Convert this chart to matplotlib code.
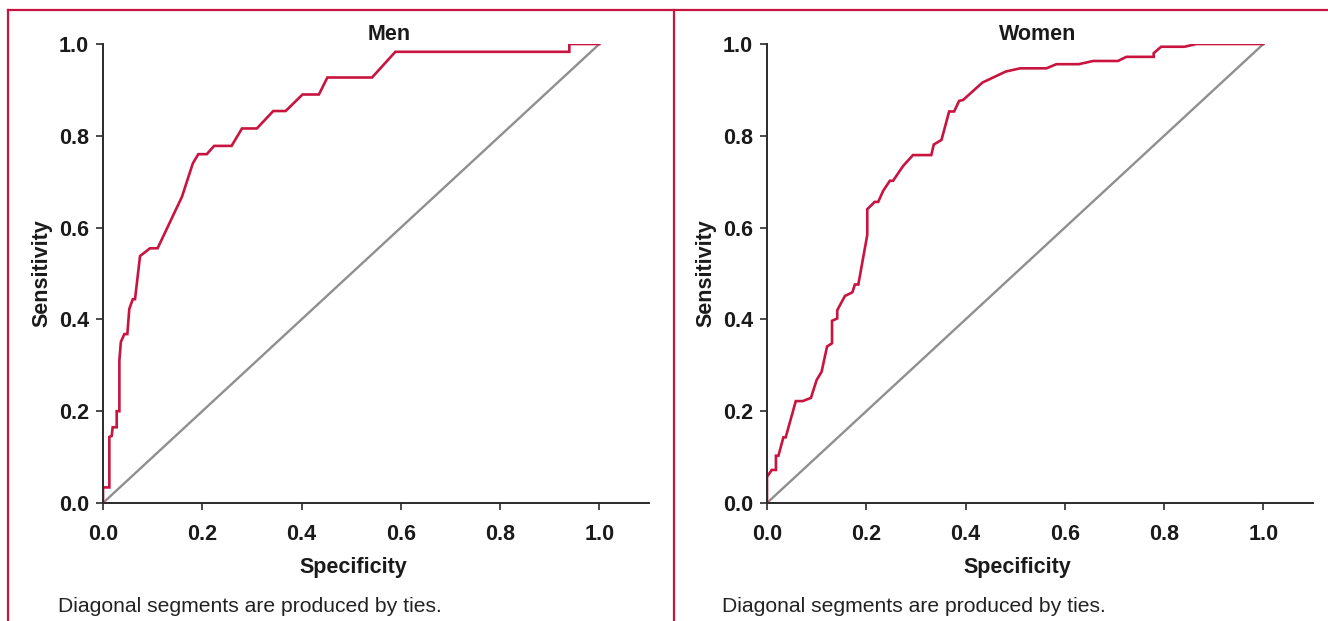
import matplotlib
matplotlib.use("Agg")
import matplotlib.pyplot as plt
from matplotlib.lines import Line2D

plt.rcParams['font.family'] = ['Liberation Sans', 'DejaVu Sans']

# ROC curve for men (x = 1 - specificity as plotted, y = sensitivity)
men_x = [0.0, 0.0, 0.0128, 0.0128, 0.0175, 0.0195, 0.0276, 0.0276, 0.033, 0.033,
         0.036, 0.043, 0.049, 0.053, 0.060, 0.0645, 0.0746, 0.0948, 0.110, 0.159,
         0.181, 0.192, 0.209, 0.224, 0.259, 0.280, 0.310, 0.343, 0.368, 0.402,
         0.435, 0.452, 0.542, 0.589, 0.9395, 0.9395, 1.0]
men_y = [0.0, 0.034, 0.034, 0.144, 0.146, 0.165, 0.165, 0.200, 0.200, 0.311,
         0.351, 0.368, 0.368, 0.423, 0.444, 0.444, 0.538, 0.555, 0.555, 0.667,
         0.740, 0.760, 0.760, 0.778, 0.778, 0.816, 0.816, 0.854, 0.854, 0.890,
         0.890, 0.927, 0.927, 0.983, 0.983, 1.0, 1.0]

# ROC curve for women
women_x = [0.0, 0.0, 0.0095, 0.018, 0.018, 0.023, 0.033, 0.0376, 0.058, 0.072,
           0.0885, 0.100, 0.110, 0.121, 0.131, 0.131, 0.1415, 0.1415, 0.157, 0.172,
           0.177, 0.184, 0.202, 0.202, 0.217, 0.224, 0.234, 0.2475, 0.254, 0.274,
           0.294, 0.331, 0.336, 0.3515, 0.367, 0.377, 0.387, 0.395, 0.434, 0.481,
           0.510, 0.563, 0.583, 0.628, 0.657, 0.707, 0.724, 0.779, 0.779, 0.794,
           0.841, 0.865, 1.0]
women_y = [0.0, 0.057, 0.072, 0.072, 0.103, 0.103, 0.143, 0.143, 0.222, 0.222,
           0.229, 0.268, 0.286, 0.341, 0.348, 0.397, 0.402, 0.420, 0.451, 0.459,
           0.476, 0.476, 0.584, 0.640, 0.656, 0.656, 0.680, 0.702, 0.702, 0.734,
           0.758, 0.758, 0.781, 0.791, 0.853, 0.853, 0.876, 0.878, 0.916, 0.940,
           0.947, 0.947, 0.956, 0.956, 0.963, 0.963, 0.972, 0.972, 0.980, 0.994,
           0.994, 1.0, 1.0]

ticks = [0.0, 0.2, 0.4, 0.6, 0.8, 1.0]
tick_labels = ['0.0', '0.2', '0.4', '0.6', '0.8', '1.0']

RED = '#c8143f'
GRAY = '#8f8f8f'
DARK = '#2b2b2b'
FS = 15.5

W, H = 1328, 621
fig = plt.figure(figsize=(W / 100, H / 100), dpi=100)

panels = [
    ('Men', men_x, men_y, 103, 389),
    ('Women', women_x, women_y, 767, 1038),
]

for title, xs, ys, left_px, title_px in panels:
    ax = fig.add_axes([left_px / W, 1 - 503 / H, 546 / W, 459 / H])
    ax.plot([0, 1], [0, 1], color=GRAY, lw=1.7, solid_capstyle='butt')
    ax.plot(xs, ys, color=RED, lw=1.9, solid_joinstyle='miter')
    ax.set_xlim(0, 1.1)
    ax.set_ylim(0, 1.0)
    ax.set_xticks(ticks)
    ax.set_xticklabels(tick_labels)
    ax.set_yticks(ticks)
    ax.set_yticklabels(tick_labels)
    for s in ['top', 'right']:
        ax.spines[s].set_visible(False)
    for s in ['left', 'bottom']:
        ax.spines[s].set_color(DARK)
        ax.spines[s].set_linewidth(1.4)
    ax.tick_params(axis='both', direction='out', length=5, width=1.2, color=DARK,
                   labelsize=FS, labelcolor='#1a1a1a')
    ax.tick_params(axis='x', pad=10)
    ax.tick_params(axis='y', pad=5)
    for lbl in ax.get_xticklabels() + ax.get_yticklabels():
        lbl.set_fontweight('bold')
    ax.patch.set_alpha(0)

    fig.text(title_px / W, 1 - 35 / H, title, ha='center', va='center',
             fontsize=FS, fontweight='bold', color='#1a1a1a')
    fig.text((left_px + 250) / W, 1 - 567 / H, 'Specificity', ha='center', va='center',
             fontsize=FS, fontweight='bold', color='#1a1a1a')
    fig.text((left_px - 61) / W, 1 - 273 / H, 'Sensitivity', ha='center', va='center',
             rotation=90, fontsize=FS, fontweight='bold', color='#1a1a1a')
    fig.text((left_px - 45) / W, 1 - 607 / H, 'Diagonal segments are produced by ties.',
             ha='left', va='center', fontsize=15.2, color='#222222')

# red frame lines
fig.add_artist(Line2D([8 / W, 1], [1 - 10 / H, 1 - 10 / H], color=RED, lw=1.6,
                      transform=fig.transFigure))
fig.add_artist(Line2D([8 / W, 8 / W], [0, 1 - 10 / H], color=RED, lw=1.6,
                      transform=fig.transFigure))
fig.add_artist(Line2D([674 / W, 674 / W], [0, 1 - 10 / H], color=RED, lw=1.6,
                      transform=fig.transFigure))

fig.savefig('out.png', dpi=100)
